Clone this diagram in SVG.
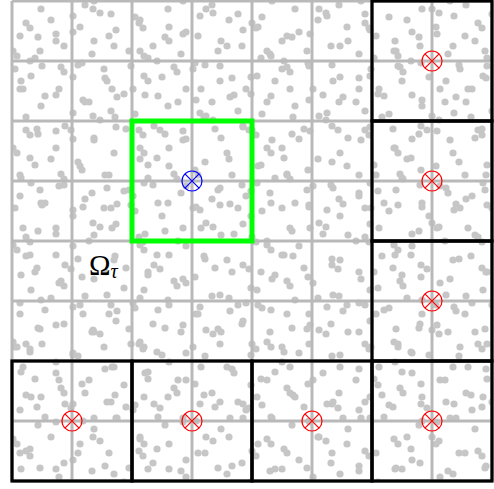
<svg xmlns="http://www.w3.org/2000/svg" width="494" height="489" viewBox="0 0 494 489">
<style>
.dot{fill:#c6c6c6}
.grid{stroke:#b9b9b9;stroke-width:3;fill:none}
.blk{stroke:#000;stroke-width:3.2;fill:none}
.sel{stroke:#00ff00;stroke-width:5;fill:none}
.mk{fill:none;stroke-width:1.2}
.red{stroke:#ff0000}
.blue{stroke:#0000ff}
.lbl{font-family:"Liberation Serif","DejaVu Serif",serif;fill:#000}
</style>
<defs>
<pattern id="pA" patternUnits="userSpaceOnUse" x="12" y="1" width="113" height="107">
<g class="dot">
<circle cx="14" cy="22" r="3.6"/><circle cx="18" cy="27" r="3.6"/><circle cx="61" cy="31" r="3.6"/><circle cx="88" cy="12" r="3.6"/><circle cx="102" cy="45" r="3.6"/><circle cx="23" cy="57" r="3.6"/><circle cx="49" cy="66" r="3.6"/><circle cx="52" cy="71" r="3.6"/><circle cx="95" cy="80" r="3.6"/><circle cx="8" cy="88" r="3.6"/><circle cx="33" cy="95" r="3.6"/><circle cx="71" cy="99" r="3.6"/><circle cx="81" cy="8" r="3.6"/><circle cx="44" cy="40" r="3.6"/><circle cx="70" cy="62" r="3.6"/><circle cx="19" cy="75" r="3.6"/><circle cx="105" cy="96" r="3.6"/>
</g>
</pattern>
<pattern id="pB" patternUnits="userSpaceOnUse" x="47" y="23" width="127" height="97">
<g class="dot">
<circle cx="9" cy="11" r="3.6"/><circle cx="31" cy="42" r="3.6"/><circle cx="47" cy="18" r="3.6"/><circle cx="69" cy="7" r="3.6"/><circle cx="93" cy="28" r="3.6"/><circle cx="118" cy="14" r="3.6"/><circle cx="12" cy="66" r="3.6"/><circle cx="38" cy="79" r="3.6"/><circle cx="58" cy="55" r="3.6"/><circle cx="77" cy="71" r="3.6"/><circle cx="101" cy="58" r="3.6"/><circle cx="121" cy="83" r="3.6"/><circle cx="26" cy="90" r="3.6"/><circle cx="64" cy="88" r="3.6"/><circle cx="88" cy="91" r="3.6"/><circle cx="110" cy="38" r="3.6"/><circle cx="97" cy="33" r="3.6"/>
</g>
</pattern>
<pattern id="pC" patternUnits="userSpaceOnUse" x="31" y="58" width="89" height="139">
<g class="dot">
<circle cx="11" cy="8" r="3.6"/><circle cx="42" cy="19" r="3.6"/><circle cx="73" cy="11" r="3.6"/><circle cx="25" cy="37" r="3.6"/><circle cx="58" cy="44" r="3.6"/><circle cx="84" cy="59" r="3.6"/><circle cx="6" cy="71" r="3.6"/><circle cx="34" cy="68" r="3.6"/><circle cx="40" cy="72" r="3.6"/><circle cx="63" cy="82" r="3.6"/><circle cx="20" cy="101" r="3.6"/><circle cx="49" cy="108" r="3.6"/><circle cx="78" cy="117" r="3.6"/><circle cx="9" cy="132" r="3.6"/><circle cx="33" cy="127" r="3.6"/><circle cx="61" cy="135" r="3.6"/><circle cx="81" cy="31" r="3.6"/>
</g>
</pattern>
<g id="mark">
<circle class="mk" r="10"/>
<path class="mk" d="M-7.07 -7.07L7.07 7.07M-7.07 7.07L7.07 -7.07"/>
</g>
</defs>
<rect width="494" height="489" fill="#fff"/>
<g id="points">
<rect x="12" y="1" width="480" height="480" fill="url(#pA)"/>
<rect x="12" y="1" width="480" height="480" fill="url(#pB)"/>
<rect x="12" y="1" width="480" height="480" fill="url(#pC)"/>
</g>
<g id="grid">
<path class="grid" d="M12 1V481M72 1V481M132 1V481M192 1V481M252 1V481M312 1V481M372 1V481M432 1V481M492 1V481M12 1H492M12 61H492M12 121H492M12 181H492M12 241H492M12 301H492M12 361H492M12 421H492M12 481H492"/>
</g>
<g id="coarse-cells">
<rect id="cell-r1" class="blk" x="372" y="1" width="120" height="120"/>
<rect id="cell-r2" class="blk" x="372" y="121" width="120" height="120"/>
<rect id="cell-r3" class="blk" x="372" y="241" width="120" height="120"/>
<rect id="cell-r4" class="blk" x="372" y="361" width="120" height="120"/>
<rect id="cell-b1" class="blk" x="12" y="361" width="120" height="120"/>
<rect id="cell-b2" class="blk" x="132" y="361" width="120" height="120"/>
<rect id="cell-b3" class="blk" x="252" y="361" width="120" height="120"/>
</g>
<g id="selected-cell">
<rect class="sel" x="132" y="121" width="120" height="120"/>
</g>
<g id="centers">
<use href="#mark" class="blue" x="192" y="181"/>
<use href="#mark" class="red" x="432" y="61"/>
<use href="#mark" class="red" x="432" y="181"/>
<use href="#mark" class="red" x="432" y="301"/>
<use href="#mark" class="red" x="432" y="421"/>
<use href="#mark" class="red" x="72" y="421"/>
<use href="#mark" class="red" x="192" y="421"/>
<use href="#mark" class="red" x="312" y="421"/>
</g>
<g id="label">
<text class="lbl" x="89" y="275" font-size="29">Ω<tspan font-size="20" font-style="italic" dx="0" dy="3">τ</tspan></text>
</g>
<g id="connectors"/>
</svg>
